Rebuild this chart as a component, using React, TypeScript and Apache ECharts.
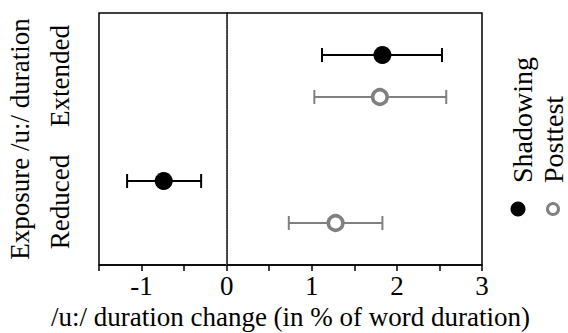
import React, { useEffect, useRef } from "react";
import * as echarts from "echarts";

const categories = ["Reduced", "Extended"];
const shadowMean = [-0.74, 1.83];
const shadowLo = [-1.17, 1.12];
const shadowHi = [-0.3, 2.53];
const postMean = [1.28, 1.8];
const postLo = [0.73, 1.03];
const postHi = [1.83, 2.58];
const xTicks = [-1, 0, 1, 2, 3];

const FONT = "Liberation Serif";
const FS = 27;
const GRAY = "#808080";

function makeRender(dir: number, filled: boolean, color: string) {
  return (params: any, api: any) => {
    const mean = api.value(0);
    const cat = api.value(1);
    const lo = api.value(2);
    const hi = api.value(3);
    const band = api.size([0, 1])[1];
    const c = api.coord([mean, cat]);
    const y = c[1] + (dir * band) / 6;
    const xl = api.coord([lo, cat])[0];
    const xh = api.coord([hi, cat])[0];
    const ls = { stroke: color, lineWidth: 2 };
    return {
      type: "group",
      children: [
        { type: "line", shape: { x1: xl, y1: y, x2: xh, y2: y }, style: ls },
        { type: "line", shape: { x1: xl, y1: y - 7, x2: xl, y2: y + 7 }, style: ls },
        { type: "line", shape: { x1: xh, y1: y - 7, x2: xh, y2: y + 7 }, style: ls },
        filled
          ? { type: "circle", shape: { cx: c[0], cy: y, r: 9 }, style: { fill: color } }
          : { type: "circle", shape: { cx: c[0], cy: y, r: 7.3 }, style: { fill: "#fff", stroke: color, lineWidth: 3.5 } },
      ],
    };
  };
}

export default function App() {
  const ref = useRef<HTMLDivElement>(null);
  useEffect(() => {
    if (!ref.current) return;
    const chart = echarts.init(ref.current, null, { renderer: "svg" });
    const shadowData = categories.map((_, i) => [shadowMean[i], i, shadowLo[i], shadowHi[i]]);
    const postData = categories.map((_, i) => [postMean[i], i, postLo[i], postHi[i]]);
    chart.setOption({
      animation: false,
      backgroundColor: "#fff",
      textStyle: { fontFamily: FONT },
      grid: {
        left: 99,
        right: 86,
        top: 13,
        bottom: 68,
        show: true,
        borderColor: "#000",
        borderWidth: 1.5,
        outerBoundsMode: "none",
        containLabel: false,
      },
      xAxis: {
        type: "value",
        min: -1.5,
        max: 3,
        interval: 0.5,
        splitLine: { show: false },
        axisLine: { show: true, lineStyle: { color: "#000", width: 1.5 } },
        axisTick: { show: true, length: 6, lineStyle: { color: "#000", width: 1.5 } },
        axisLabel: {
          margin: 7,
          color: "#000",
          fontFamily: FONT,
          fontSize: FS,
          formatter: (v: number) => (xTicks.indexOf(v) >= 0 ? String(v) : ""),
        },
        name: "/u:/ duration change (in % of word duration)",
        nameLocation: "middle",
        nameGap: 29,
        nameTextStyle: { color: "#000", fontFamily: FONT, fontSize: FS },
      },
      yAxis: {
        type: "category",
        data: categories,
        axisLine: { show: true, lineStyle: { color: "#000", width: 1.5 } },
        axisTick: { show: false },
        splitLine: { show: false },
        axisLabel: { rotate: 90, interval: 0, margin: 26, color: "#000", fontFamily: FONT, fontSize: FS },
        name: "Exposure /u:/ duration",
        nameLocation: "middle",
        nameRotate: 90,
        nameGap: 66,
        nameTextStyle: { color: "#000", fontFamily: FONT, fontSize: FS },
      },
      series: [
        {
          name: "Shadowing",
          type: "custom",
          renderItem: makeRender(-1, true, "#000"),
          data: shadowData,
          encode: { x: [0, 2, 3], y: 1 },
          z: 3,
          markLine: {
            silent: true,
            symbol: "none",
            label: { show: false },
            lineStyle: { color: "#777", type: [1, 1.5], width: 0.8 },
            data: [{ xAxis: 0 }],
          },
        },
        {
          name: "Posttest",
          type: "custom",
          renderItem: makeRender(1, false, GRAY),
          data: postData,
          encode: { x: [0, 2, 3], y: 1 },
          z: 3,
        },
      ],
      graphic: [
        {
          type: "text",
          x: 522,
          y: 183,
          rotation: Math.PI / 2,
          style: { text: "Shadowing", fill: "#000", fontFamily: FONT, fontSize: 28, align: "left", verticalAlign: "middle" },
        },
        {
          type: "text",
          x: 553,
          y: 183,
          rotation: Math.PI / 2,
          style: { text: "Posttest", fill: "#000", fontFamily: FONT, fontSize: 28, align: "left", verticalAlign: "middle" },
        },
        { type: "circle", shape: { cx: 518, cy: 209, r: 7.5 }, style: { fill: "#000" } },
        { type: "circle", shape: { cx: 553, cy: 209, r: 5.5 }, style: { fill: "#fff", stroke: GRAY, lineWidth: 3 } },
      ],
    });
    return () => chart.dispose();
  }, []);
  return <div ref={ref} style={{ width: 568, height: 333, position: "absolute", left: 0, top: 0 }} />;
}
